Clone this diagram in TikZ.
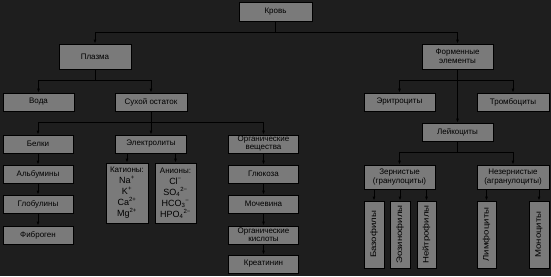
\documentclass[tikz,border=0pt]{standalone}
\usepackage{fontspec}
\setmainfont{Liberation Sans}
\usepackage{graphicx}
\usetikzlibrary{arrows.meta}
\definecolor{bgc}{HTML}{1E1E1E}
\definecolor{boxc}{HTML}{7A7A7A}
\newcommand{\vtext}[1]{\rotatebox{90}{\scalebox{1.2}[1]{#1}}}
\begin{document}
\begin{tikzpicture}[x=1pt,y=-1pt,
  box/.style={draw=black,line width=0.8pt,fill=boxc,inner sep=0pt,align=center,
    font=\fontsize{8}{9.5}\selectfont,text=black},
  tight/.style={font=\fontsize{8}{8}\selectfont},
  ln/.style={draw=black,line width=0.8pt},
  arr/.style={ln,-{Latex[length=4pt,width=3pt]}}]
\fill[bgc] (0,0) rectangle (551,276);
\useasboundingbox (0,0) rectangle (551,276);
% top
\node[box,minimum width=73pt,minimum height=19pt] (krov) at (275.5,11.5) {Кровь};
\node[box,minimum width=72pt,minimum height=25pt] (plazma) at (95,56.5) {Плазма};
\node[box,minimum width=71pt,minimum height=25pt] (form) at (457.5,56.5) {Форменные\\элементы};
\node[box,minimum width=71pt,minimum height=18pt] (voda) at (38.5,102) {Вода};
\node[box,minimum width=72pt,minimum height=18pt] (suhoi) at (151,102) {Сухой остаток};
\node[box,minimum width=71pt,minimum height=18pt] (eritr) at (399.5,102) {Эритроциты};
\node[box,minimum width=72pt,minimum height=18pt] (tromb) at (513,102) {Тромбоциты};
\node[box,minimum width=71pt,minimum height=18pt] (leik) at (457.5,132) {Лейкоциты};
% left column
\node[box,minimum width=70pt,minimum height=18pt] (belki) at (38,144) {Белки};
\node[box,minimum width=70pt,minimum height=18pt] (albumin) at (38,174) {Альбумины};
\node[box,minimum width=70pt,minimum height=18pt] (globulin) at (38,204) {Глобулины};
\node[box,minimum width=70pt,minimum height=18pt] (fibrogen) at (38,235) {Фиброген};
% electrolytes
\node[box,minimum width=71pt,minimum height=18pt] (elektr) at (151,144) {Электролиты};
\node[box,minimum width=42pt,minimum height=60pt,font=\fontsize{9}{11}\selectfont] (kation) at (127,193)
  {{\fontsize{8}{9}\selectfont Катионы:}\\Na\textsuperscript{+}\\K\textsuperscript{+}\\Ca\textsuperscript{2+}\\Mg\textsuperscript{2+}};
\node[box,minimum width=41pt,minimum height=60pt,font=\fontsize{9}{11}\selectfont] (anion) at (175.5,193)
  {{\fontsize{8}{9}\selectfont Анионы:}\\Cl\textsuperscript{−}\\SO\textsubscript{4}\textsuperscript{2−}\\HCO\textsubscript{3}\textsuperscript{−}\\HPO\textsubscript{4}\textsuperscript{2−}};
% organic column
\node[box,tight,minimum width=70pt,minimum height=18pt] (orgv) at (263.5,144) {Органические\\вещества};
\node[box,minimum width=70pt,minimum height=18pt] (gluk) at (263.5,174) {Глюкоза};
\node[box,minimum width=70pt,minimum height=18pt] (moch) at (263.5,204) {Мочевина};
\node[box,tight,minimum width=70pt,minimum height=18pt] (orgk) at (263.5,235) {Органические\\кислоты};
\node[box,minimum width=70pt,minimum height=18pt] (kreat) at (263.5,264) {Креатинин};
% leukocytes
\node[box,minimum width=71pt,minimum height=24pt] (zern) at (399.5,177) {Зернистые\\(гранулоциты)};
\node[box,minimum width=72pt,minimum height=24pt] (nezern) at (513,177) {Незернистые\\(агранулоциты)};
\node[box,minimum width=20pt,minimum height=67pt] (bazo) at (374,234.5) {\vtext{Базофилы}};
\node[box,minimum width=20pt,minimum height=67pt] (eoz) at (400,234.5) {\vtext{Эозинофилы}};
\node[box,minimum width=19pt,minimum height=67pt] (neitr) at (426.5,234.5) {\vtext{Нейтрофилы}};
\node[box,minimum width=19pt,minimum height=67pt] (limf) at (486.5,234.5) {\vtext{Лимфоциты}};
\node[box,minimum width=20pt,minimum height=67pt] (mono) at (539,234.5) {\vtext{Моноциты}};
% junctions
\coordinate (j1) at (275.5,32);
\coordinate (j2) at (95,80);
\coordinate (j3) at (151,122);
\coordinate (j4) at (457.5,80);
\coordinate (j5) at (457.5,152);
% connectors
\draw[ln] (krov.south) -- (j1);
\draw[arr] (j1) -| (plazma.north);
\draw[arr] (j1) -| (form.north);
\draw[ln] (plazma.south) -- (j2);
\draw[arr] (j2) -| (voda.north);
\draw[arr] (j2) -| (suhoi.north);
\draw[ln] (suhoi.south) -- (j3);
\draw[arr] (j3) -| (belki.north);
\draw[arr] (j3) -- (elektr.north);
\draw[arr] (j3) -| (orgv.north);
\draw[arr] (belki) -- (albumin);
\draw[arr] (albumin) -- (globulin);
\draw[arr] (globulin) -- (fibrogen);
\draw[arr] (kation.north |- elektr.south) -- (kation.north);
\draw[arr] (anion.north |- elektr.south) -- (anion.north);
\draw[arr] (orgv) -- (gluk);
\draw[arr] (gluk) -- (moch);
\draw[arr] (moch) -- (orgk);
\draw[arr] (orgk) -- (kreat);
\draw[arr] (form.south) -- (leik.north);
\draw[arr] (j4) -| (eritr.north);
\draw[arr] (j4) -| (tromb.north);
\draw[ln] (leik.south) -- (j5);
\draw[arr] (j5) -| (zern.north);
\draw[arr] (j5) -| (nezern.north);
\draw[arr] (bazo.north |- zern.south) -- (bazo.north);
\draw[arr] (eoz.north |- zern.south) -- (eoz.north);
\draw[arr] (neitr.north |- zern.south) -- (neitr.north);
\draw[arr] (limf.north |- nezern.south) -- (limf.north);
\draw[arr] (mono.north |- nezern.south) -- (mono.north);
\end{tikzpicture}
\end{document}
